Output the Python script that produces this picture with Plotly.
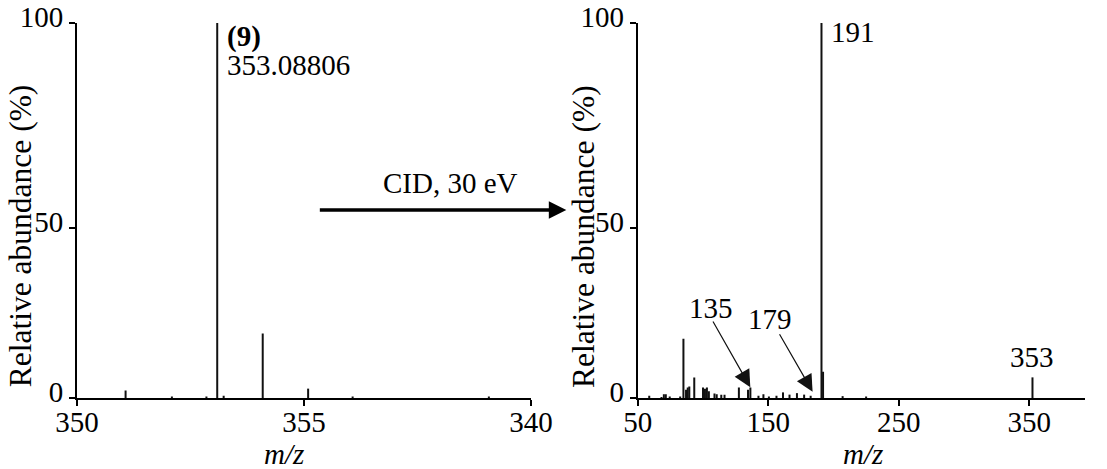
import plotly.graph_objects as go

# ---------------- data ----------------
# Left panel: full-scan spectrum around the precursor
ms1_mz = [351.07, 352.09, 352.85, 353.088, 353.23, 354.09, 355.09, 356.07, 359.07]
ms1_int = [2.0, 0.4, 0.4, 100.0, 0.6, 17.2, 2.5, 0.4, 0.4]

# Right panel: CID (30 eV) product-ion spectrum
ms2_mz = [58.8, 68.2, 70.0, 71.5, 74.5, 82.5, 85.0, 87.0, 88.3, 89.5, 93.3,
          100.0, 101.5, 103.0, 104.5, 108.8, 110.5, 114.0, 116.5, 127.5,
          134.5, 136.3, 142.5, 146.3, 150.5, 156.3, 161.3, 166.3, 172.0,
          177.5, 182.5, 190.8, 192.0, 207.0, 225.0, 352.5]
ms2_int = [0.6, 0.3, 1.0, 1.0, 0.4, 0.4, 15.8, 2.2, 2.8, 3.1, 5.5,
           2.8, 2.5, 2.8, 1.8, 1.2, 1.0, 0.9, 0.9, 2.8,
           2.2, 2.8, 0.6, 1.0, 0.4, 0.6, 1.5, 0.9, 1.3,
           0.9, 0.6, 100.0, 7.0, 0.5, 0.4, 5.5]

left_xticks = [350, 355, 360]
left_xticklabels = ["350", "355", "340"]
right_xticks = [50, 150, 250, 350]
right_xticklabels = ["50", "150", "250", "350"]
y_ticklabels = ["0", "50", "100"]

FONT = "Liberation Serif"
FS = 29
INK = "#111111"


def sticks(mz, inten):
    xs, ys = [], []
    for m, h in zip(mz, inten):
        xs += [m, m, None]
        ys += [0, h, None]
    return xs, ys


fig = go.Figure()
x1, y1 = sticks(ms1_mz, ms1_int)
fig.add_trace(go.Scatter(x=x1, y=y1, mode="lines", xaxis="x", yaxis="y",
                         line=dict(color=INK, width=2), hoverinfo="skip",
                         showlegend=False))
x2, y2 = sticks(ms2_mz, ms2_int)
fig.add_trace(go.Scatter(x=x2, y=y2, mode="lines", xaxis="x2", yaxis="y2",
                         line=dict(color=INK, width=2), hoverinfo="skip",
                         showlegend=False))

W, H = 1107, 469
ML, MT, MB = 77, 23, 71
PW = W - ML
PH = H - MT - MB


def px(xp):
    return (xp - ML) / PW


def py(yp):
    return (H - MB - yp) / PH


axis_common = dict(showline=True, linecolor="black", linewidth=2,
                   ticks="outside", ticklen=6, tickwidth=2, tickcolor="black",
                   showgrid=False, zeroline=False,
                   tickfont=dict(family=FONT, size=FS, color="black"))

ytickvals = [0, 45.3, 100]

fig.update_layout(
    width=W, height=H,
    margin=dict(l=ML, r=0, t=MT, b=MB),
    paper_bgcolor="white", plot_bgcolor="white",
    xaxis=dict(domain=[0, px(541)], range=[350, 360], anchor="y",
               tickvals=left_xticks, ticktext=left_xticklabels,
               ticklabelstandoff=-9, **axis_common),
    yaxis=dict(domain=[0, 1], range=[0, 100], anchor="x",
               tickvals=ytickvals, ticktext=y_ticklabels, ticklabelshift=-6,
               **axis_common),
    xaxis2=dict(domain=[px(650), 1], range=[50, 392.75], anchor="y2",
                tickvals=right_xticks, ticktext=right_xticklabels,
                ticklabelstandoff=-9, **axis_common),
    yaxis2=dict(domain=[0, 1], range=[0, 100], anchor="x2",
                tickvals=ytickvals, ticktext=y_ticklabels, ticklabelshift=-6,
                **axis_common),
)

tfont = dict(family=FONT, size=FS, color="black")
ann = []
# axis titles
for xc in (19, 594):
    ann.append(dict(xref="paper", yref="paper", x=px(xc), y=py(236),
                    text="Relative abundance (%)", textangle=-90,
                    showarrow=False, font=dict(family=FONT, size=31.5, color="black"),
                    xanchor="center", yanchor="middle"))
for xc in (289, 880):
    ann.append(dict(xref="paper", yref="paper", x=px(xc), y=py(454),
                    text="<i>m/z</i>", showarrow=False, font=tfont,
                    xanchor="center", yanchor="middle"))

# left peak labels
ann.append(dict(xref="x", yref="y", x=353.25, y=96.5, text="<b>(9)</b>",
                showarrow=False, font=tfont, xanchor="left", yanchor="middle"))
ann.append(dict(xref="x", yref="y", x=353.25, y=88.9, text="353.08806",
                showarrow=False, font=tfont, xanchor="left", yanchor="middle"))
# right peak labels
ann.append(dict(xref="x2", yref="y2", x=196.25, y=97.7, text="191",
                showarrow=False, font=tfont, xanchor="left", yanchor="middle"))
ann.append(dict(xref="x2", yref="y2", x=352.0, y=10.9, text="353",
                showarrow=False, font=tfont, xanchor="center", yanchor="middle"))
ann.append(dict(xref="x2", yref="y2", x=106.2, y=24.0, text="135",
                showarrow=False, font=tfont, xanchor="center", yanchor="middle"))
ann.append(dict(xref="x2", yref="y2", x=151.6, y=21.1, text="179",
                showarrow=False, font=tfont, xanchor="center", yanchor="middle"))
# pointer arrows
ann.append(dict(xref="x2", yref="y2", axref="x2", ayref="y2",
                x=136.25, y=2.9, ax=107.0, ay=20.8, text="",
                showarrow=True, arrowhead=2, arrowsize=2.8, arrowwidth=1.2,
                arrowcolor=INK))
ann.append(dict(xref="x2", yref="y2", axref="x2", ayref="y2",
                x=184.0, y=1.7, ax=158.0, ay=17.4, text="",
                showarrow=True, arrowhead=2, arrowsize=2.8, arrowwidth=1.2,
                arrowcolor=INK))
# CID arrow between panels
ann.append(dict(xref="paper", yref="paper", x=px(577), y=py(210),
                ax=-248, ay=0, text="", showarrow=True, arrowhead=2,
                arrowsize=1, arrowwidth=3.5, arrowcolor="black"))
ann.append(dict(xref="paper", yref="paper", x=px(459), y=py(183),
                text="CID, 30 eV", showarrow=False, font=tfont,
                xanchor="center", yanchor="middle"))

fig.update_layout(annotations=ann)
fig.write_html("out.html", config={"displayModeBar": False},
               post_script="document.body.style.margin='0';"
                           "document.body.style.overflow='hidden';")
